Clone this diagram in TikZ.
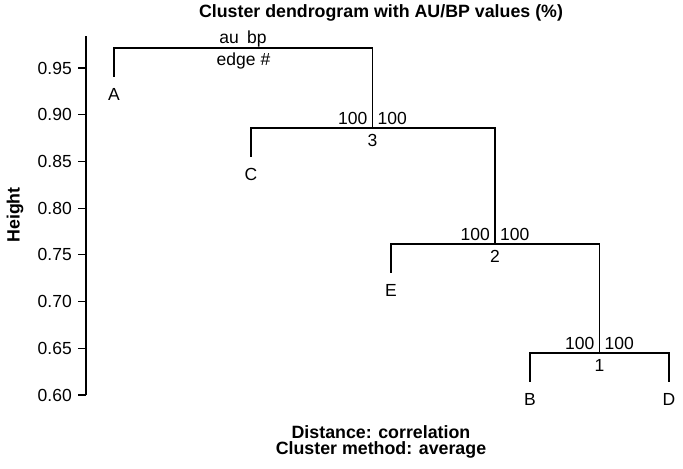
\documentclass[tikz,border=0pt]{standalone}
\usepackage{fontspec}
\setmainfont{Liberation Sans}
\usetikzlibrary{positioning}
\tikzstyle{branch}=[draw=black,line width=1.2pt]
\def\hang{0.031}

\begin{document}
\begin{tikzpicture}[x=1pt,y=934pt,font=\fontsize{17.5}{20}\selectfont]
    \tikzstyle{leaf}=[inner sep=0pt]
    \tikzstyle{au}=[inner sep=0pt,anchor=base east]
    \tikzstyle{bp}=[inner sep=0pt,anchor=base west]
    \tikzstyle{edgeno}=[inner sep=0pt]
    \tikzstyle{annot}=[inner sep=0pt,font=\fontsize{17.8}{20}\selectfont\bfseries]
    \useasboundingbox (0,0.5218) rectangle (683,1.0229);

    % Draw the height axis
    \coordinate (axbot) at (86,0.60);
    \coordinate (axtop) at (86,0.984);
    \draw[branch] (axbot) -- (axtop);
    \foreach \h [count=\i] in {0.60,0.65,0.70,0.75,0.80,0.85,0.90,0.95}
    {
        \coordinate (tick-\i) at (86,\h);
        \draw[branch] (tick-\i) -- ++(-8pt,0);
        \node[anchor=east,inner sep=0pt] (ticklab-\i) at (72,\h) {\h};
    }

    % Draw the merge points
    \coordinate (m4) at (243.5,0.9715);
    \coordinate (m3) at (372.5,0.8859);
    \coordinate (m2) at (495,0.7617);
    \coordinate (m1) at (599.5,0.6450);

    % Draw the leaf tips
    \coordinate (tA) at (114,0.9715-\hang);
    \coordinate (tC) at (251,0.8859-\hang);
    \coordinate (tE) at (391,0.7617-\hang);
    \coordinate (tB) at (530,0.6450-\hang);
    \coordinate (tD) at (669,0.6450-\hang);

    % Draw the leaf labels
    \foreach \name in {A,B,C,D,E}
        \node[leaf, below=11pt of t\name] (\name) {\name};

    % Connect the branches
    \draw[branch] (tA) |- (m4) -| (m3);
    \draw[branch] (tC) |- (m3) -| (m2);
    \draw[branch] (tE) |- (m2) -| (m1);
    \draw[branch] (tB) |- (m1) -| (tD);

    % au / bp values and edge numbers
    \foreach \m in {1,2,3}
    {
        \node[au] (au-\m) at ([xshift=-5pt,yshift=3.5pt]m\m) {100};
        \node[bp] (bp-\m) at ([xshift=5pt,yshift=3.5pt]m\m) {100};
        \node[edgeno, below=6pt of m\m] (edge-\m) {\m};
    }

    % legend at the top merge
    \node[au] (auTitle) at ([xshift=-4.5pt,yshift=4.5pt]m4) {au};
    \node[bp] (bpTitle) at ([xshift=3.5pt,yshift=4.5pt]m4) {bp};
    \node[edgeno, below=5pt of m4] (edgeTitle) {edge \#};

    % titles
    \node[annot] (graphTitle) at (381,1.009) {Cluster dendrogram with AU/BP values (\%)};
    \node[annot] (distLabel) at (381,0.5604) {Distance: correlation};
    \node[annot] (methodLabel) at (381,0.5411) {Cluster method: average};
    \node[annot, rotate=90] (heightLabel) at (15,0.7927) {Height};
\end{tikzpicture}
\end{document}
